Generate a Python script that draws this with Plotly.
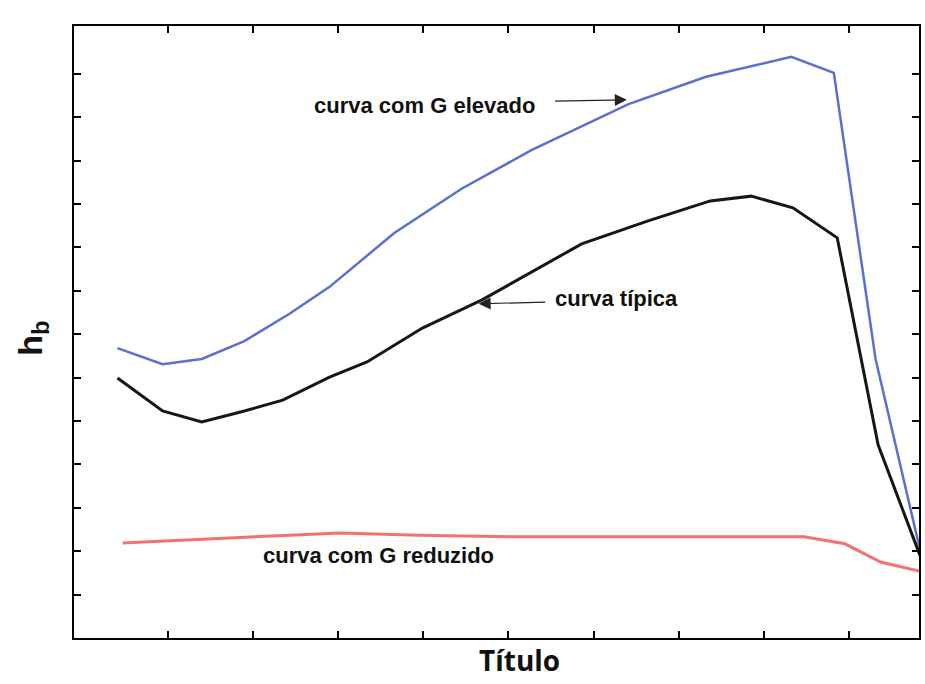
import plotly.graph_objects as go

# Data (axis units)
x_elevado = [0.41, 0.94, 1.40, 1.90, 2.43, 2.90, 3.66, 4.45, 5.27, 6.41, 7.32, 8.32, 8.82, 9.31, 9.83]
y_elevado = [6.68, 6.31, 6.43, 6.84, 7.47, 8.09, 9.33, 10.35, 11.24, 12.30, 12.93, 13.39, 13.02, 6.43, 2.05]

x_tipica = [0.41, 0.94, 1.40, 1.90, 2.35, 2.90, 3.34, 3.99, 4.69, 5.86, 6.64, 7.37, 7.85, 8.34, 8.86, 9.34, 9.83]
y_tipica = [5.99, 5.23, 4.98, 5.23, 5.48, 6.01, 6.36, 7.14, 7.79, 9.08, 9.61, 10.07, 10.18, 9.91, 9.22, 4.45, 1.91]

x_reduzido = [0.47, 1.38, 2.43, 3.02, 3.95, 5.12, 6.29, 7.46, 8.47, 8.95, 9.37, 9.83]
y_reduzido = [2.19, 2.28, 2.37, 2.42, 2.37, 2.33, 2.33, 2.33, 2.33, 2.17, 1.75, 1.54]

x_ticks = [1, 2, 3, 4, 5, 6, 7, 8, 9]
y_ticks = list(range(1, 14))

label_elevado = "curva com G elevado"
label_tipica = "curva típica"
label_reduzido = "curva com G reduzido"
x_title = "Título"
y_title = "h<sub>b</sub>"

fig = go.Figure()
fig.add_trace(go.Scatter(x=x_elevado, y=y_elevado, mode="lines",
                         line=dict(color="#5b6fd2", width=2.5), showlegend=False))
fig.add_trace(go.Scatter(x=x_tipica, y=y_tipica, mode="lines",
                         line=dict(color="#161616", width=3), showlegend=False))
fig.add_trace(go.Scatter(x=x_reduzido, y=y_reduzido, mode="lines",
                         line=dict(color="#f27272", width=3), showlegend=False))

lab_font = dict(family="Liberation Sans, Arial, sans-serif", size=22, color="#111111")

fig.add_annotation(x=4.01, y=12.28, text="<b>%s</b>" % label_elevado, showarrow=False, font=lab_font)
fig.add_annotation(x=6.39, y=12.40, ax=5.53, ay=12.37, axref="x", ayref="y", text="",
                   showarrow=True, arrowhead=2, arrowsize=2, arrowwidth=1.2, arrowcolor="#222222")
fig.add_annotation(x=6.27, y=7.83, text="<b>%s</b>" % label_tipica, showarrow=False, font=lab_font)
fig.add_annotation(x=4.65, y=7.70, ax=5.45, ay=7.74, axref="x", ayref="y", text="",
                   showarrow=True, arrowhead=2, arrowsize=2, arrowwidth=1.2, arrowcolor="#222222")
fig.add_annotation(x=3.48, y=1.89, text="<b>%s</b>" % label_reduzido, showarrow=False, font=lab_font)

# axis titles as paper annotations to match their offset positions
fig.add_annotation(xref="paper", yref="paper", x=0.527, y=-0.036, yanchor="middle",
                   text="<b>%s</b>" % x_title, showarrow=False,
                   font=dict(family="Open Sans, sans-serif", size=28, color="#111111"))
fig.add_annotation(xref="paper", yref="paper", x=-0.05, y=0.49, xanchor="center", yanchor="middle",
                   text="<b>%s</b>" % y_title, showarrow=False, textangle=-90,
                   font=dict(family="Liberation Sans, Arial, sans-serif", size=34, color="#111111"))

axis_common = dict(showline=True, linecolor="black", linewidth=2, mirror="ticks",
                   ticks="inside", ticklen=7, tickwidth=2, tickcolor="black",
                   showgrid=False, zeroline=False, showticklabels=False)

fig.update_xaxes(range=[-0.1, 9.82], tickmode="array", tickvals=x_ticks, **axis_common)
fig.update_yaxes(range=[0, 14.1], tickmode="array", tickvals=y_ticks, **axis_common)

fig.update_layout(width=925, height=684, margin=dict(l=74, r=4, t=26, b=46),
                  plot_bgcolor="white", paper_bgcolor="white")

fig.write_html("out.html")
